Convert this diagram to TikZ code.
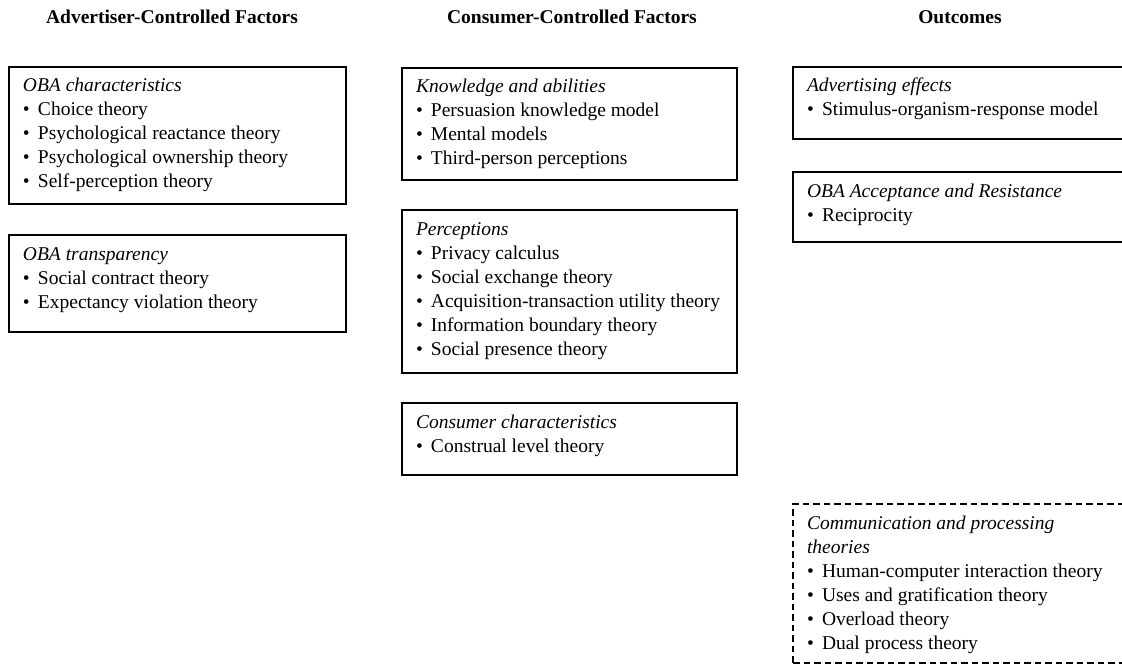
\documentclass[tikz,border=0pt]{standalone}
\usepackage{fontspec}
\setmainfont{Liberation Serif}
\newcommand\boxbody[3]{\parbox[c][#1pt][t]{#2pt}{\fontsize{19.5}{24}\selectfont\raggedright\vspace*{8.2pt}\strut #3}}
\newcommand\bul{\makebox[15pt][l]{\textbullet}}
\begin{document}
\begin{tikzpicture}[x=1pt,y=-1pt,
  box/.style={draw=black, line width=1.3pt, anchor=north west, inner xsep=14pt, inner ysep=0pt, outer sep=0pt},
  dbox/.style={box, dash pattern=on 6.5pt off 4pt},
  coltitle/.style={font=\fontsize{19.5}{24}\selectfont\bfseries, anchor=base}]
\clip (0,0) rectangle (1122,666);
\fill[white] (0,0) rectangle (1122,666);
% column titles
\node[coltitle] (t1) at (172,24) {Advertiser-Controlled Factors};
\node[coltitle] (t2) at (572,24) {Consumer-Controlled Factors};
\node[coltitle] (t3) at (960,24) {Outcomes};
% left column
\node[box] (a) at (9,67) {\boxbody{137}{309}{\textit{OBA characteristics}\\
  \bul Choice theory\\
  \bul Psychological reactance theory\\
  \bul Psychological ownership theory\\
  \bul Self-perception theory}};
\node[box] (b) at (9,235) {\boxbody{97}{309}{\textit{OBA transparency}\\
  \bul Social contract theory\\
  \bul Expectancy violation theory}};
% middle column
\node[box] (c) at (402,68) {\boxbody{112}{307}{\textit{Knowledge and abilities}\\
  \bul Persuasion knowledge model\\
  \bul Mental models\\
  \bul Third-person perceptions}};
\node[box] (d) at (402,210) {\boxbody{163}{307}{\textit{Perceptions}\\
  \bul Privacy calculus\\
  \bul Social exchange theory\\
  \bul Acquisition-transaction utility theory\\
  \bul Information boundary theory\\
  \bul Social presence theory}};
\node[box] (e) at (402,403) {\boxbody{72}{307}{\textit{Consumer characteristics}\\
  \bul Construal level theory}};
% right column
\node[box] (f) at (793,67) {\boxbody{72}{310}{\textit{Advertising effects}\\
  \bul Stimulus-organism-response model}};
\node[box] (g) at (793,172) {\boxbody{70}{310}{\textit{OBA Acceptance and Resistance}\\
  \bul Reciprocity}};
\node[dbox] (h) at (793,504) {\boxbody{159}{310}{\textit{Communication and processing}\\
  \textit{theories}\\
  \bul Human-computer interaction theory\\
  \bul Uses and gratification theory\\
  \bul Overload theory\\
  \bul Dual process theory}};
\end{tikzpicture}
\end{document}
